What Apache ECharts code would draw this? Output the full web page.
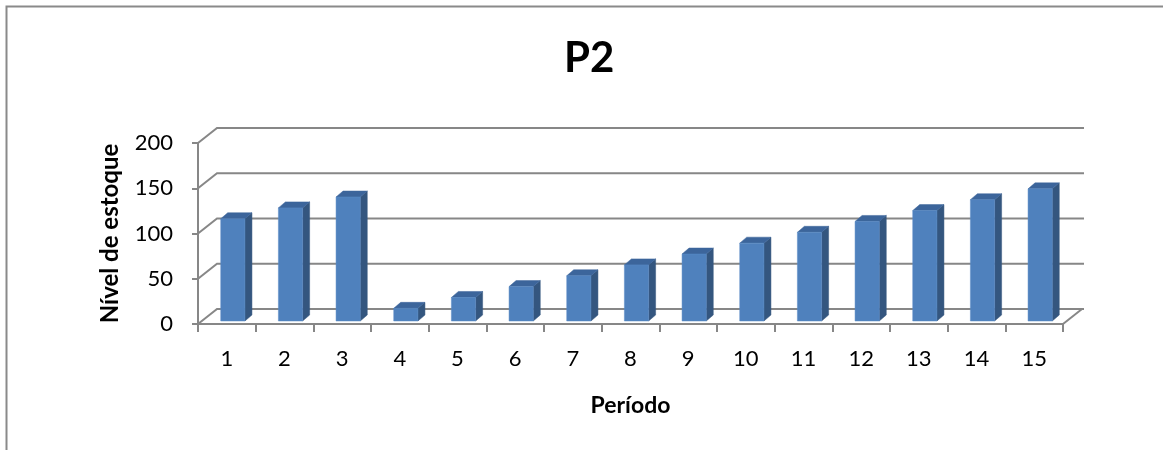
<!DOCTYPE html>
<html>
<head>
<meta charset="utf-8">
<script src="https://cdn.jsdelivr.net/npm/echarts@6/dist/echarts.min.js"></script>
<style>
html,body{margin:0;padding:0;background:#fff;}
#chart{width:1163px;height:450px;}
</style>
</head>
<body>
<div id="chart"></div>
<script>
// ---- data ----
const categories = ['1','2','3','4','5','6','7','8','9','10','11','12','13','14','15'];
const stock = [113,125,137,14,26,38,50,62,74,86,98,110,122,134,146];
const yTicks = [0,50,100,150,200];
const titleText = 'P2';
const xName = 'Período';
const yName = 'Nível de estoque';

// ---- style ----
const FONT = 'Lato';
const GRID_COLOR = '#878787';
const DX = 19, DY = -15;          // back wall offset
const BAR_DX = 6, BAR_DY = -3;    // bar position within depth
const TOP_DX = 7, TOP_DY = -6;    // bar depth

const chart = echarts.init(document.getElementById('chart'), null, {renderer:'canvas'});

const option = {
  animation: false,
  backgroundColor: '#fff',
  title: {
    text: titleText,
    left: 559, top: 32,
    textStyle: {fontFamily: FONT, fontSize: 42, fontWeight: 'bold', color: '#000'}
  },
  graphic: [{
    type: 'polyline',
    shape: {points: [[6.5, 460], [6.5, 6.5], [1170, 6.5]]},
    style: {stroke: '#8a8a8a', lineWidth: 2, fill: null},
    silent: true
  }],
  grid: {left: 198, top: 143, width: 865, height: 181, containLabel: false},
  xAxis: {
    type: 'category',
    data: categories,
    boundaryGap: true,
    name: xName,
    nameLocation: 'middle',
    nameGap: 70,
    nameTextStyle: {fontFamily: FONT, fontSize: 23, fontWeight: 'bold', color: '#000'},
    axisLine: {show: true, lineStyle: {color: GRID_COLOR, width: 2}},
    axisTick: {show: true, interval: 0, length: 8, lineStyle: {color: GRID_COLOR, width: 2}},
    axisLabel: {interval: 0, margin: 24, fontFamily: FONT, fontSize: 22, color: '#000'},
    splitLine: {show: false}
  },
  yAxis: {
    type: 'value',
    min: 0, max: 200, interval: 50,
    name: yName,
    nameLocation: 'middle',
    nameRotate: 90,
    nameGap: 76,
    nameTextStyle: {fontFamily: FONT, fontSize: 24, fontWeight: 'bold', color: '#000'},
    axisLine: {show: true, lineStyle: {color: GRID_COLOR, width: 2}},
    axisTick: {show: true, length: 6, lineStyle: {color: GRID_COLOR, width: 2}},
    axisLabel: {margin: 25, fontFamily: FONT, fontSize: 22, color: '#000'},
    splitLine: {show: false}
  },
  series: [
    {
      type: 'custom',
      name: 'walls',
      silent: true,
      z: 1,
      data: yTicks.map(v => [0, v]),
      encode: {x: 0, y: 1},
      renderItem: function (params, api) {
        const cs = params.coordSys;
        const v = api.value(1);
        const y = api.coord([0, v])[1];
        const left = cs.x, right = cs.x + cs.width;
        const children = [{
          type: 'polyline',
          shape: {points: [[left, y], [left + DX, y + DY], [right + DX + 2, y + DY]]},
          style: {stroke: GRID_COLOR, lineWidth: 2, fill: null}
        }];
        if (v === 0) {
          children.push({
            type: 'line',
            shape: {x1: right, y1: y, x2: right + DX, y2: y + DY},
            style: {stroke: GRID_COLOR, lineWidth: 2}
          });
        }
        return {type: 'group', children: children};
      }
    },
    {
      type: 'custom',
      name: 'Nível de estoque',
      z: 3,
      data: stock.map((v, i) => [i, v]),
      encode: {x: 0, y: 1},
      renderItem: function (params, api) {
        const i = api.value(0), v = api.value(1);
        const top = api.coord([i, v]);
        const base = api.coord([i, 0]);
        const band = api.size([1, 0])[0];
        const w = band * 0.42;
        const cx = top[0] + BAR_DX;
        const x0 = cx - w / 2, x1 = cx + w / 2;
        const yT = top[1] + BAR_DY, yB = base[1] + BAR_DY;
        return {
          type: 'group',
          children: [
            {type: 'polygon', shape: {points: [[x1, yT], [x1 + TOP_DX, yT + TOP_DY], [x1 + TOP_DX, yB + TOP_DY], [x1, yB]]},
             style: {fill: '#34567F', stroke: '#34567F', lineWidth: 0.5}},
            {type: 'polygon', shape: {points: [[x0, yT], [x0 + TOP_DX, yT + TOP_DY], [x1 + TOP_DX, yT + TOP_DY], [x1, yT]]},
             style: {fill: '#3C659B', stroke: '#3C659B', lineWidth: 0.5}},
            {type: 'rect', shape: {x: x0, y: yT, width: x1 - x0, height: yB - yT},
             style: {fill: '#4F81BD', stroke: '#5B8CC6', lineWidth: 0.5}}
          ]
        };
      }
    }
  ]
};
chart.setOption(option);
</script>
</body>
</html>
